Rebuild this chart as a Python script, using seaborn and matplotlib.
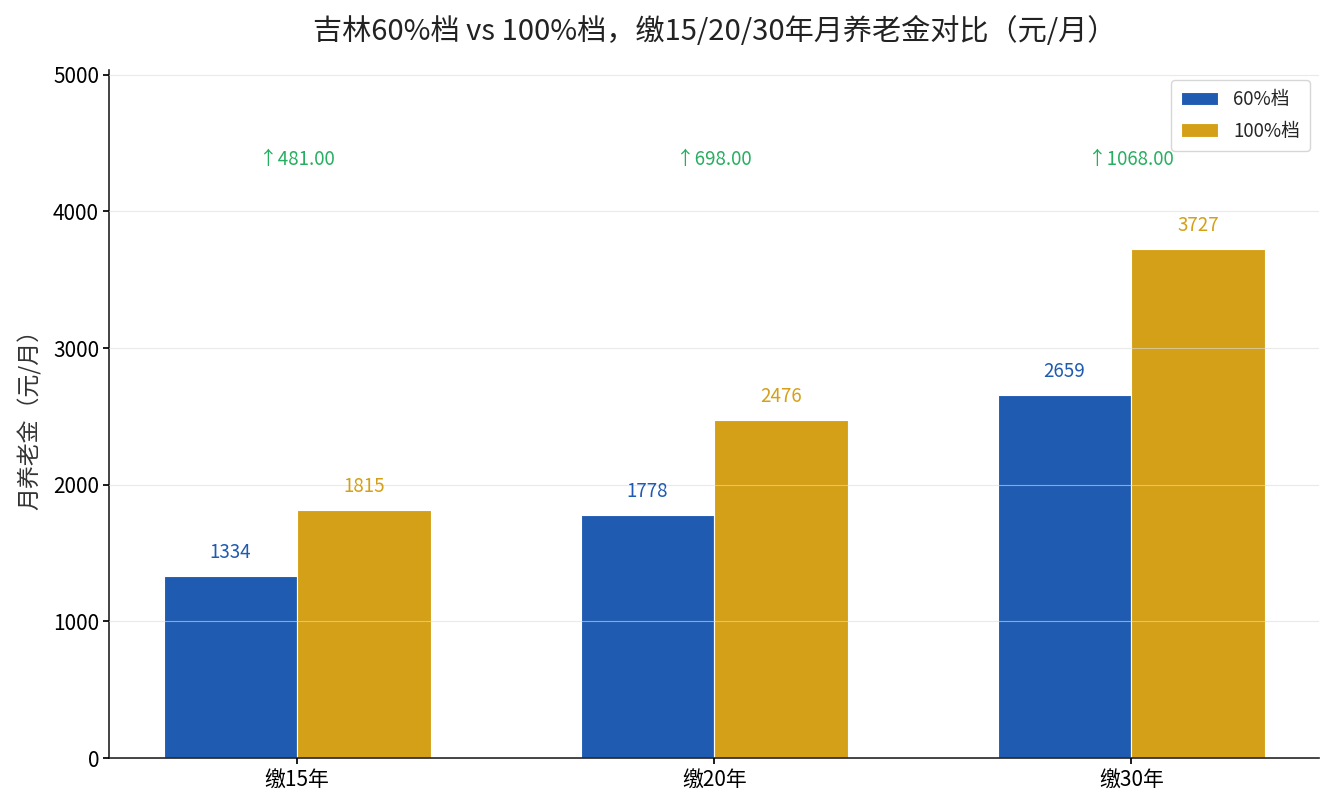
import matplotlib
matplotlib.use("Agg")
import numpy as np
import pandas as pd
import seaborn as sns
import matplotlib.pyplot as plt

# 数据
anos = ["缴15年", "缴20年", "缴30年"]
pensao_60 = [1334, 1778, 2659]
pensao_100 = [1815, 2476, 3727]
diferenca = [481.00, 698.00, 1068.00]

COR_60 = "#1f5bb0"
COR_100 = "#d4a017"
COR_DIF = "#27ae60"

sns.set_theme(style="white")
plt.rcParams["font.family"] = ["Noto Sans CJK SC", "DejaVu Sans"]
plt.rcParams["axes.unicode_minus"] = False

df = pd.DataFrame({
    "ano": anos * 2,
    "valor": pensao_60 + pensao_100,
    "档次": ["60%档"] * 3 + ["100%档"] * 3,
})

fig, ax = plt.subplots(figsize=(13.35, 8.1), dpi=100)
sns.barplot(data=df, x="ano", y="valor", hue="档次",
            palette=[COR_60, COR_100], width=0.64, gap=0,
            edgecolor="white", linewidth=0.8, saturation=1, ax=ax)

topo = max(pensao_100)
x = np.arange(len(anos))
w = 0.32
for i in range(len(anos)):
    ax.text(x[i] - w / 2, pensao_60[i] + topo * 0.025, f"{pensao_60[i]}",
            ha="center", va="bottom", fontsize=13.5, color=COR_60)
    ax.text(x[i] + w / 2, pensao_100[i] + topo * 0.025, f"{pensao_100[i]}",
            ha="center", va="bottom", fontsize=13.5, color=COR_100)
    ax.text(x[i], topo * 1.175, f"↑{diferenca[i]:.2f}",
            ha="center", va="center", fontsize=13.5, color=COR_DIF)

ax.set_ylim(0, topo * 1.35)
ax.set_yticks([0, 1000, 2000, 3000, 4000, 5000])
ax.set_xlim(-0.45, 2.45)
ax.set_title("吉林60%档 vs 100%档，缴15/20/30年月养老金对比（元/月）",
             fontsize=21, pad=22, color="#222222")
ax.set_xlabel("")
ax.set_ylabel("月养老金（元/月）", fontsize=16.5, color="#333333", labelpad=8)
ax.tick_params(axis="both", labelsize=15, colors="black", length=4,
               left=True, bottom=True)
ax.grid(axis="y", color="#dddddd", alpha=0.6, linewidth=0.8)
ax.set_axisbelow(False)
sns.despine(ax=ax)
for s in ["left", "bottom"]:
    ax.spines[s].set_color("#222222")
    ax.spines[s].set_linewidth(1.2)

leg = ax.legend(loc="upper right", fontsize=13.5, frameon=True,
                handlelength=2.0, borderpad=0.5, labelspacing=0.55)
leg.set_title(None)

plt.subplots_adjust(left=0.082, right=0.988, top=0.913, bottom=0.064)
plt.savefig("out.png", dpi=100)
plt.close()
